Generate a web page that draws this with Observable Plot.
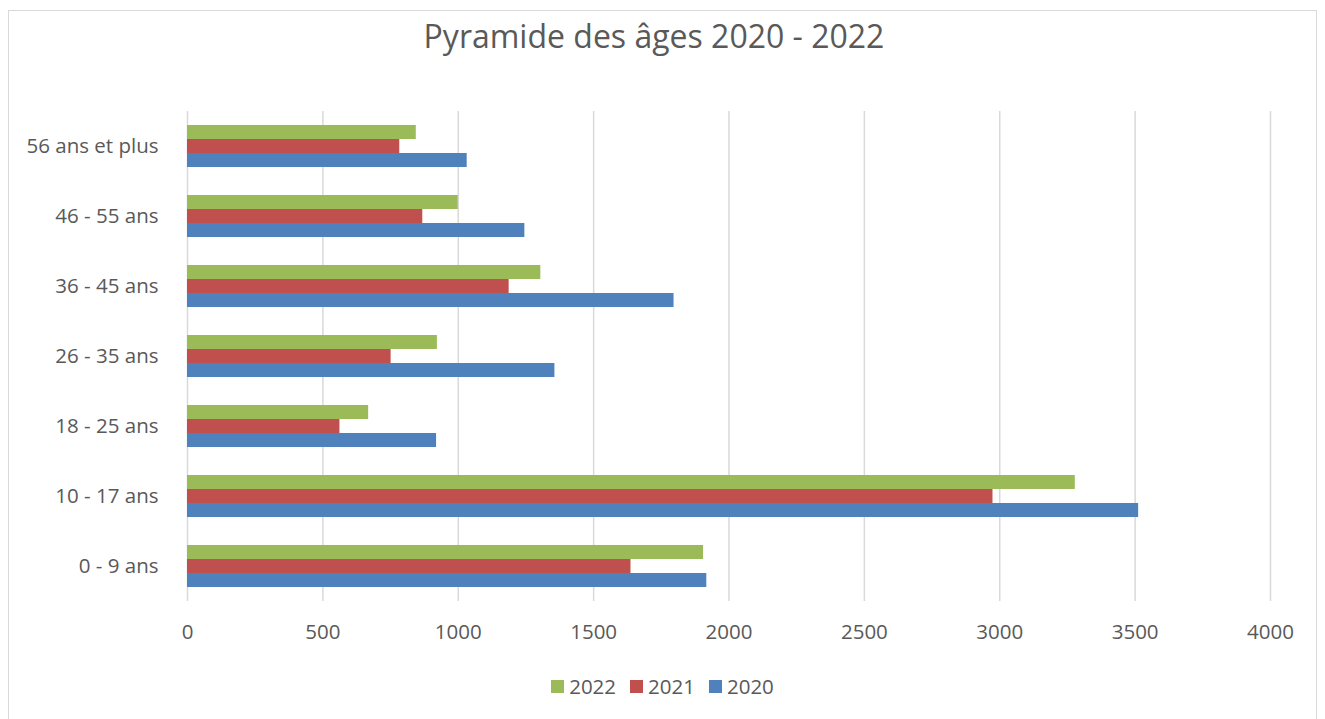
<!DOCTYPE html>
<html>
<head>
<meta charset="utf-8">
<script src="https://cdn.jsdelivr.net/npm/d3@7"></script>
<script src="https://cdn.jsdelivr.net/npm/@observablehq/plot@0.6"></script>
<style>
  html, body { margin: 0; padding: 0; background: #fff; }
  #wrap { position: relative; width: 1325px; height: 719px; overflow: hidden; font-family: "Open Sans", "Liberation Sans", sans-serif; color: #595959; }
  #frame { position: absolute; left: 8px; top: 10px; width: 1309px; height: 720px; border: 1px solid #d9d9d9; box-sizing: border-box; }
  #title { position: absolute; left: 0; width: 1308px; top: 14px; text-align: center; font-size: 32px; color: #595959; }
  #legend { position: absolute; left: 0; width: 1325px; top: 672px; display: flex; justify-content: center; font-size: 20.5px; color: #595959; }
  #legend .item { display: flex; align-items: center; margin: 0 7px; }
  #legend .sw { width: 13px; height: 13px; margin-right: 5px; }
  #chart { position: absolute; left: 0; top: 0; }
</style>
</head>
<body>
<div id="wrap">
  <div id="frame"></div>
  <div id="chart"></div>
  <div id="title">Pyramide des âges 2020 - 2022</div>
  <div id="legend"></div>
</div>
<script>
const ages = ["0 - 9 ans", "10 - 17 ans", "18 - 25 ans", "26 - 35 ans", "36 - 45 ans", "46 - 55 ans", "56 ans et plus"];
const years = ["2022", "2021", "2020"];
const v2020 = [1918, 3513, 920, 1357, 1797, 1246, 1033];
const v2021 = [1638, 2975, 563, 752, 1188, 869, 784];
const v2022 = [1906, 3279, 669, 923, 1305, 1000, 845];
const colors = ["#9BBB59", "#C0504D", "#4F81BD"];
const xTicks = [0, 500, 1000, 1500, 2000, 2500, 3000, 3500, 4000];

const series = {"2020": v2020, "2021": v2021, "2022": v2022};
const rows = [];
ages.forEach((a, i) => years.forEach(y => rows.push({age: a, year: y, value: series[y][i]})));

const chart = Plot.plot({
  width: 1325,
  height: 719,
  marginLeft: 187,
  marginRight: 55,
  marginTop: 110,
  marginBottom: 117,
  style: {fontFamily: "'Open Sans', 'Liberation Sans', sans-serif", fontSize: "20.5px", color: "#595959", background: "transparent"},
  facet: {data: rows, y: "age", marginTop: 0, marginBottom: 0, marginLeft: 0, marginRight: 0},
  fy: {domain: ages.slice().reverse(), padding: 0, axis: "left", label: null, tickSize: 0, tickPadding: 29},
  y: {domain: years, paddingInner: 0, paddingOuter: 0.93, axis: null},
  x: {domain: [0, 4000], ticks: xTicks, tickFormat: d => String(d), tickSize: 0, tickPadding: 23, label: null},
  color: {domain: years, range: colors},
  marks: [
    Plot.ruleX(xTicks, {stroke: "#d9d9d9", strokeWidth: 1.5}),
    Plot.barX(rows, {x: "value", y: "year", fill: "year"})
  ]
});
document.getElementById("chart").appendChild(chart);

const legend = document.getElementById("legend");
years.forEach((y, i) => {
  const it = document.createElement("div");
  it.className = "item";
  const sw = document.createElement("div");
  sw.className = "sw";
  sw.style.background = colors[i];
  const t = document.createElement("span");
  t.textContent = y;
  it.appendChild(sw); it.appendChild(t);
  legend.appendChild(it);
});
</script>
</body>
</html>
